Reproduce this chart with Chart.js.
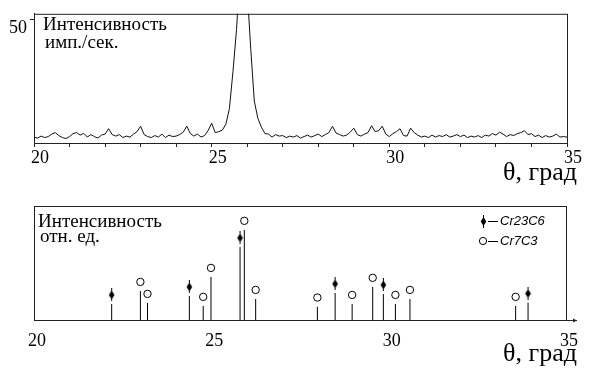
<!DOCTYPE html>
<html>
<head>
<meta charset="utf-8">
<script src="https://cdn.jsdelivr.net/npm/chart.js@4.4.0/dist/chart.umd.min.js"></script>
<style>
body { margin: 0; background: #fff; width: 590px; height: 378px; overflow: hidden; position: relative; font-family: "Liberation Serif", serif; }
canvas { position: absolute; left: 0; }
#top { top: 0; }
#bottom { top: 190px; }
.t { position: absolute; white-space: nowrap; color: #000; }
.lbl { font-size: 19px; line-height: 19px; }
.axt { font-size: 26px; line-height: 26px; right: 13px; }
</style>
</head>
<body>
<canvas id="top" width="590" height="190"></canvas>
<canvas id="bottom" width="590" height="188"></canvas>

<div class="t lbl" style="left:43px;top:14px">Интенсивность</div>
<div class="t lbl" style="left:45px;top:32px">имп./сек.</div>
<div class="t axt" style="top:159px">θ, град</div>

<div class="t lbl" style="left:38px;top:211px">Интенсивность</div>
<div class="t lbl" style="left:40px;top:226px">отн. ед.</div>
<div class="t axt" style="top:340px">θ, град</div>

<script>
// верхний график: скан с шагом 0.1 градуса от 20 до 35
const thetaStart = 20;
const thetaStep = 0.1;
const counts = [
  2.4, 2.0, 2.8, 2.2, 2.6, 3.6, 4.2, 3.0, 2.2, 1.8,
  2.6, 3.8, 4.2, 3.2, 3.9, 2.4, 3.4, 2.6, 2.0, 3.2,
  3.6, 5.8, 3.4, 2.8, 3.4, 2.2, 2.8, 2.4, 3.6, 4.6,
  6.8, 3.4, 2.6, 2.2, 3.0, 2.4, 3.6, 2.2, 3.2, 2.6,
  2.8, 3.4, 4.4, 6.8, 3.8, 2.8, 3.6, 2.4, 3.0, 5.0,
  8.0, 4.2, 4.6, 5.2, 7.6, 14, 29, 46, 70, 80,
  62, 38, 17, 10, 6.4, 3.8, 3.6, 2.4, 3.4, 2.8,
  3.0, 2.2, 2.8, 2.4, 3.0, 2.0, 2.6, 3.2, 2.4, 3.0,
  3.6, 2.6, 3.4, 4.2, 6.8, 4.0, 3.4, 2.8, 3.2, 4.4,
  6.0, 3.4, 2.8, 3.6, 4.2, 7.0, 4.6, 5.0, 6.8, 3.6,
  2.6, 3.8, 4.6, 5.8, 3.0, 2.8, 6.0, 4.2, 3.2, 2.4,
  2.8, 2.2, 3.2, 2.4, 3.0, 2.6, 3.4, 2.4, 2.8, 3.4,
  2.6, 3.2, 2.2, 2.8, 2.4, 3.0, 2.2, 3.2, 2.8, 3.8,
  3.2, 4.4, 3.6, 2.6, 3.4, 3.0, 3.8, 4.2, 5.0, 3.4,
  3.8, 2.6, 3.2, 2.2, 3.0, 2.4, 2.8, 3.6, 2.4, 2.6,
  2.4
];
const topTicks = [50];

// нижний график: штрих-диаграмма
const cr23c6Theta = [22.19, 24.38, 25.81, 28.49, 29.85, 33.93];
const cr23c6Int   = [14, 21, 64, 23.7, 22.8, 15.2];
const cr7c3Theta  = [23.0, 23.2, 24.77, 24.99, 25.93, 26.25, 27.99, 28.97, 29.55, 30.19, 30.6, 33.58];
const cr7c3Int    = [25.4, 14.9, 12.3, 37.7, 79, 18.4, 11.7, 14, 29, 14, 18.4, 12.3];
const legendNames = ['Cr23C6', 'Cr7C3'];

const markGap = 8; // маркер чуть выше штриха

function diamondMark() {
  const c = document.createElement('canvas');
  c.width = 7; c.height = 13;
  const g = c.getContext('2d');
  g.fillStyle = '#000';
  g.fillRect(3, 0, 1, 13);
  g.beginPath();
  g.moveTo(3.5, 2); g.lineTo(6.3, 6.5); g.lineTo(3.5, 11); g.lineTo(0.7, 6.5);
  g.closePath();
  g.fill();
  return c;
}
const diamond = diamondMark();

function sticks(xs, ys) {
  const pts = [];
  xs.forEach((x, i) => {
    pts.push({x: x, y: 0}, {x: x, y: ys[i]}, {x: x, y: null});
  });
  return pts;
}

const boxPlugin = {
  id: 'box',
  beforeDatasetsDraw(chart, args, opts) {
    const {ctx, chartArea: a} = chart;
    ctx.save();
    ctx.strokeStyle = '#222';
    ctx.lineWidth = 1;
    ctx.strokeRect(a.left + 0.5, a.top + 0.5, a.right - a.left, a.bottom - a.top);
    if (opts.arrow) {
      const y = a.bottom + 0.5;
      ctx.beginPath();
      ctx.moveTo(a.right, y); ctx.lineTo(a.right + 11, y);
      ctx.stroke();
      ctx.beginPath();
      ctx.moveTo(a.right + 11, y); ctx.lineTo(a.right + 7, y - 2); ctx.lineTo(a.right + 7, y + 2);
      ctx.closePath();
      ctx.fillStyle = '#222';
      ctx.fill();
    }
    ctx.restore();
  }
};

const legendPlugin = {
  id: 'legendBox',
  afterDraw(chart) {
    const ctx = chart.ctx;
    ctx.save();
    ctx.fillStyle = '#000';
    ctx.strokeStyle = '#000';
    ctx.lineWidth = 1;
    // ромб
    ctx.drawImage(diamond, 480, 25);
    // кружок
    ctx.beginPath();
    ctx.arc(483, 51, 3.6, 0, Math.PI * 2);
    ctx.stroke();
    // тире
    ctx.fillRect(488, 31, 10, 1);
    ctx.fillRect(488, 51, 10, 1);
    ctx.font = 'italic 13px "Liberation Sans"';
    ctx.textBaseline = 'middle';
    ctx.fillText(legendNames[0], 500, 31);
    ctx.fillText(legendNames[1], 500, 51);
    ctx.restore();
  }
};

const tickFont = {family: '"Liberation Serif"', size: 18};

new Chart(document.getElementById('top'), {
  type: 'line',
  data: {
    datasets: [{
      data: counts.map((v, i) => ({x: thetaStart + i * thetaStep, y: v})),
      borderColor: '#111',
      borderWidth: 1,
      pointRadius: 0,
      tension: 0
    }]
  },
  options: {
    responsive: false,
    animation: false,
    layout: {padding: {top: 9, right: 23, left: 0, bottom: 0}},
    plugins: {legend: {display: false}, tooltip: {enabled: false}, box: {arrow: false}},
    scales: {
      x: {
        type: 'linear', min: 20, max: 35,
        afterFit: s => { s.height = 47; },
        grid: {drawOnChartArea: false, tickLength: 4, color: '#222'},
        border: {color: '#222'},
        ticks: {
          stepSize: 1, autoSkip: false, maxRotation: 0, padding: 0, labelOffset: 6,
          color: '#000', font: tickFont,
          callback: v => (v % 5 === 0 ? String(v) : '')
        }
      },
      y: {
        min: 0, max: 52.3,
        afterFit: s => { s.width = 34; },
        afterBuildTicks: s => { s.ticks = topTicks.map(v => ({value: v})); },
        grid: {drawOnChartArea: false, tickLength: 4, color: '#222'},
        border: {color: '#222'},
        ticks: {padding: 3, labelOffset: 9, color: '#000', font: tickFont}
      }
    }
  },
  plugins: [boxPlugin]
});

new Chart(document.getElementById('bottom'), {
  type: 'scatter',
  data: {
    datasets: [
      {
        type: 'line',
        data: sticks(cr23c6Theta, cr23c6Int).concat(sticks(cr7c3Theta, cr7c3Int)),
        borderColor: '#000',
        borderWidth: 1,
        pointRadius: 0,
        spanGaps: false
      },
      {
        label: legendNames[0],
        data: cr23c6Theta.map((x, i) => ({x: x, y: cr23c6Int[i] + markGap})),
        pointStyle: diamond,
        pointRadius: 5
      },
      {
        label: legendNames[1],
        data: cr7c3Theta.map((x, i) => ({x: x, y: cr7c3Int[i] + markGap})),
        pointStyle: 'circle',
        pointRadius: 3.7,
        borderColor: '#000',
        borderWidth: 1,
        backgroundColor: '#fff'
      }
    ]
  },
  options: {
    responsive: false,
    animation: false,
    layout: {padding: {top: 16, right: 24, left: 0, bottom: 0}},
    plugins: {legend: {display: false}, tooltip: {enabled: false}, box: {arrow: true}},
    scales: {
      x: {
        type: 'linear', min: 20, max: 35,
        afterFit: s => { s.height = 58; },
        grid: {display: false, drawTicks: false},
        border: {color: '#222'},
        ticks: {
          stepSize: 5, autoSkip: false, maxRotation: 0, padding: 10, labelOffset: 3,
          color: '#000', font: tickFont
        }
      },
      y: {
        min: 0, max: 100,
        afterFit: s => { s.width = 34; },
        grid: {display: false},
        border: {color: '#222'},
        ticks: {display: false}
      }
    }
  },
  plugins: [boxPlugin, legendPlugin]
});
</script>
</body>
</html>
